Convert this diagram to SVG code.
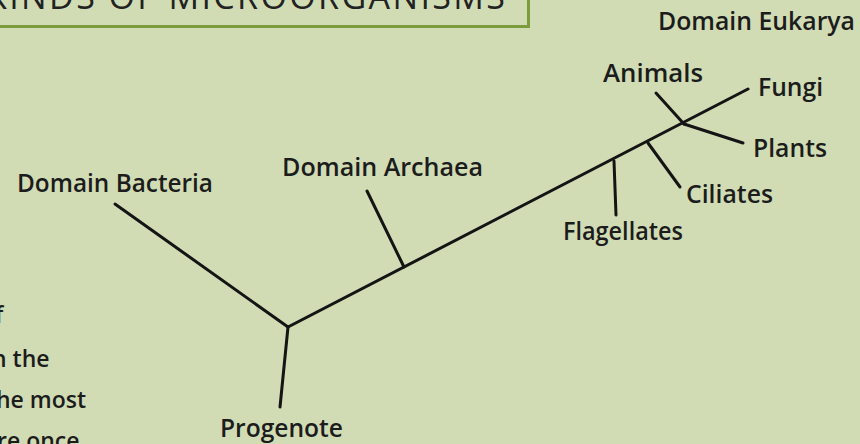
<svg xmlns="http://www.w3.org/2000/svg" width="860" height="444" viewBox="0 0 860 444">
  <style>
    .bg { fill: #d1dcb5; }
    .box { fill: none; stroke: #7b9b3c; stroke-width: 3; }
    .title { font-family: "Open Sans", "Liberation Sans", sans-serif; font-size: 34px; font-weight: 500; fill: #222; }
    .lbl { font-family: "Open Sans", "Liberation Sans", sans-serif; font-size: 25px; font-weight: 600; fill: #1c1c1c; }
    .body { font-family: "Open Sans", "Liberation Sans", sans-serif; font-size: 23px; font-weight: 600; fill: #1c1c1c; }
    .edge { fill: none; stroke: #141414; stroke-width: 3; stroke-linecap: round; }
  </style>
  <rect class="bg" x="0" y="0" width="860" height="444"/>

  <g id="title-box">
    <rect class="box" x="-20" y="-20" width="548.5" height="46.5"/>
    <text class="title" x="-14" y="9" textLength="519" lengthAdjust="spacing">KINDS OF MICROORGANISMS</text>
  </g>

  <g id="body-text">
    <text class="body" x="-5" y="323">f</text>
    <text class="body" x="-8" y="367">n the</text>
    <text class="body" x="-4" y="408">he most</text>
    <text class="body" x="-3" y="449">re once</text>
  </g>

  <g id="connectors">
    <line class="edge" x1="115" y1="204" x2="288" y2="327"/>
    <line class="edge" x1="288" y1="327" x2="280" y2="407"/>
    <line class="edge" x1="288" y1="327" x2="748" y2="89"/>
    <line class="edge" x1="367" y1="191" x2="404" y2="267"/>
    <line class="edge" x1="614" y1="161" x2="616" y2="215"/>
    <line class="edge" x1="648" y1="143" x2="680" y2="187"/>
    <line class="edge" x1="656" y1="93" x2="684" y2="124"/>
    <line class="edge" x1="684" y1="124" x2="743" y2="143"/>
  </g>

  <g id="node-eukarya"><text class="lbl" x="658" y="30" textLength="197" lengthAdjust="spacingAndGlyphs">Domain Eukarya</text></g>
  <g id="node-animals"><text class="lbl" x="603" y="82" textLength="100" lengthAdjust="spacingAndGlyphs">Animals</text></g>
  <g id="node-fungi"><text class="lbl" x="758" y="96" textLength="65" lengthAdjust="spacingAndGlyphs">Fungi</text></g>
  <g id="node-plants"><text class="lbl" x="753" y="157" textLength="74" lengthAdjust="spacingAndGlyphs">Plants</text></g>
  <g id="node-ciliates"><text class="lbl" x="686" y="203" textLength="87" lengthAdjust="spacingAndGlyphs">Ciliates</text></g>
  <g id="node-flagellates"><text class="lbl" x="563" y="240" textLength="120" lengthAdjust="spacingAndGlyphs">Flagellates</text></g>
  <g id="node-archaea"><text class="lbl" x="282" y="176" textLength="201" lengthAdjust="spacingAndGlyphs">Domain Archaea</text></g>
  <g id="node-bacteria"><text class="lbl" x="17" y="192" textLength="196" lengthAdjust="spacingAndGlyphs">Domain Bacteria</text></g>
  <g id="node-progenote"><text class="lbl" x="220" y="437" textLength="123" lengthAdjust="spacingAndGlyphs">Progenote</text></g>
</svg>
